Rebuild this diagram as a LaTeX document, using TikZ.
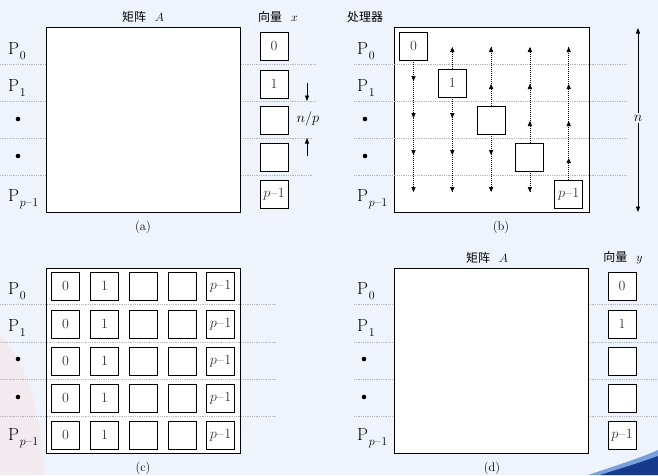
\documentclass[tikz,border=0pt]{standalone}
\usepackage{fontspec}
\newfontfamily\cjk{Noto Sans CJK SC}
\usetikzlibrary{arrows.meta}
\definecolor{bg}{RGB}{239,243,251}
\definecolor{dotgray}{RGB}{180,180,186}
\definecolor{numgray}{RGB}{55,55,55}
\definecolor{swoosh}{RGB}{22,58,140}
\definecolor{swooshlight}{RGB}{120,160,220}
\definecolor{pinkish}{RGB}{243,234,240}
\newcommand\Psb[1]{P\kern0.8pt\raisebox{-5pt}{\fontsize{12}{12}\selectfont #1}}
\newcommand\pmo{$p$\kern0.3pt--\kern0.2pt1}
\begin{document}
\begin{tikzpicture}[x=1pt,y=-1pt,
  cell/.style={draw, fill=white, line width=0.9pt, minimum width=28pt, minimum height=28pt, inner sep=0pt, font=\fontsize{14}{14}\selectfont, text=numgray},
  mat/.style={draw, fill=white, line width=0.9pt, inner sep=0pt, minimum width=194pt, minimum height=185pt},
  dotline/.style={dotgray, line width=0.6pt, dash pattern=on 0.9pt off 0.9pt},
  plabel/.style={font=\fontsize{17.5}{17.5}\selectfont, anchor=base west, inner sep=0pt},
  bul/.style={circle, fill=black, inner sep=0pt, minimum size=4.6pt},
  ttl/.style={font=\fontsize{12}{12}\selectfont, inner sep=0pt},
  figcap/.style={font=\fontsize{12.5}{12.5}\selectfont, inner sep=0pt},
  arrowtip/.style={-{Triangle[length=5pt,width=4.2pt]}, line width=0.6pt},
  vline/.style={line width=0.7pt, dash pattern=on 1pt off 1pt},
  solidarrow/.style={line width=0.8pt, -{Triangle[length=5.5pt,width=4pt]}},
]
\useasboundingbox (0,0) rectangle (658,475);
\fill[bg] (0,0) rectangle (658,475);
% faint background decorations
\fill[pinkish] (0,335) .. controls (25,360) and (42,410) .. (44,475) -- (0,475) -- cycle;
\fill[swooshlight] (588,475) .. controls (615,466) and (640,458) .. (658,450) -- (658,475) -- cycle;
\fill[swoosh] (600,475) .. controls (622,468) and (642,462) .. (658,456) -- (658,475) -- cycle;

% ================= (a) =================
\foreach \yy/\xe in {64/316,101/316,138/313,175/313}
  \draw[dotline] (0,\yy) -- (\xe,\yy);
\node[mat] (Aa) at (143,119.5) {};
\node[ttl] (ta) at (143,17) {{\cjk 矩阵}\hspace{9pt}$A$};
\node[ttl] (tx) at (278,17) {{\cjk 向量}\hspace{9pt}$x$};
\node[plabel] (pa0) at (8,54) {\Psb{0}};
\node[plabel] (pa1) at (8,91) {\Psb{1}};
\node[bul] (da2) at (18,119) {};
\node[bul] (da3) at (18,156) {};
\node[plabel] (pa4) at (8,201) {\Psb{\pmo}};
\node[cell] (xa0) at (274,46) {0};
\node[cell] (xa1) at (274,84) {1};
\node[cell] (xa2) at (274,120) {};
\node[cell] (xa3) at (274,157) {};
\node[cell] (xa4) at (274,194) {\pmo};
\coordinate (npd1) at (307,83);
\coordinate (npd2) at (307,101);
\coordinate (npu1) at (307,156);
\coordinate (npu2) at (307,138);
\draw[solidarrow] (npd1) -- (npd2);
\draw[solidarrow] (npu1) -- (npu2);
\node[font=\fontsize{14}{14}\selectfont, inner sep=0pt] (np) at (308,119) {$n/p$};
\node[figcap] (ca) at (143,227) {(a)};

% ================= (b) =================
\node[mat, minimum width=195pt] (Ab) at (491.5,119.5) {};
\foreach \yy in {64,101,138,175}
  \draw[dotline] (354,\yy) -- (627,\yy);
\node[ttl] (tb) at (365,17) {\cjk 处理器};
\node[plabel] (pb0) at (357,54) {\Psb{0}};
\node[plabel] (pb1) at (357,91) {\Psb{1}};
\node[bul] (db2) at (365,119) {};
\node[bul] (db3) at (365,156) {};
\node[plabel] (pb4) at (357,201) {\Psb{\pmo}};
\foreach \j in {0,...,4}{
  \pgfmathsetmacro\xj{413.5+38.8*\j}
  \pgfmathsetmacro\yj{46+37*\j}
  \coordinate (top\j) at (\xj,47);
  \coordinate (bot\j) at (\xj,192);
  \coordinate (ctr\j) at (\xj,\yj);
}
\foreach \j in {1,...,4}{
  \draw[vline] (ctr\j) -- (top\j);
}
\foreach \j in {0,...,3}{
  \draw[vline] (ctr\j) -- (bot\j);
}
% arrowheads
\foreach \j in {1,...,4}{
  \pgfmathtruncatemacro\jm{\j-1}
  \foreach \i in {0,...,\jm}{
    \pgfmathsetmacro\xj{413.5+38.8*\j}
    \pgfmathsetmacro\tp{47+37*\i}
    \draw[arrowtip] (\xj,\tp+4) -- (\xj,\tp);
  }
}
\foreach \j in {0,...,3}{
  \pgfmathtruncatemacro\jp{\j+1}
  \foreach \i in {\jp,...,4}{
    \pgfmathsetmacro\xj{413.5+38.8*\j}
    \pgfmathsetmacro\tp{81+37*(\i-1)}
    \draw[arrowtip] (\xj,\tp-4) -- (\xj,\tp);
  }
}
\node[cell] (b0) at (ctr0) {0};
\node[cell] (b1) at (ctr1) {1};
\node[cell] (b2) at (ctr2) {};
\node[cell] (b3) at (ctr3) {};
\node[cell] (b4) at (ctr4) {\pmo};
\coordinate (nt) at (638,28);
\coordinate (nb) at (638,212);
\draw[line width=0.8pt, {Triangle[length=5.5pt,width=4pt]}-{Triangle[length=5.5pt,width=4pt]}] (nt) -- (nb);
\node[fill=bg, inner sep=1.5pt, font=\fontsize{14}{14}\selectfont] (nn) at (638,118) {$n$};
\node[figcap] (cb) at (501,227) {(b)};

% ================= (c) =================
\node[mat] (Ac) at (143,360.5) {};
\foreach \yy in {304,342,379,416}
  \draw[dotline] (0,\yy) -- (277,\yy);
\node[plabel] (pc0) at (8,294) {\Psb{0}};
\node[plabel] (pc1) at (8,331) {\Psb{1}};
\node[bul] (dc2) at (18,359) {};
\node[bul] (dc3) at (18,397) {};
\node[plabel] (pc4) at (8,440) {\Psb{\pmo}};
\foreach \r/\yy in {0/286,1/324,2/361,3/398,4/435}{
  \node[cell] (c\r0) at (65.5,\yy) {0};
  \node[cell] (c\r1) at (104.5,\yy) {1};
  \node[cell] (c\r2) at (143.5,\yy) {};
  \node[cell] (c\r3) at (182.5,\yy) {};
  \node[cell] (c\r4) at (220.5,\yy) {\pmo};
}
\node[figcap] (cc) at (143,468) {(c)};

% ================= (d) =================
\foreach \yy in {304,342,379,416}
  \draw[dotline] (354,\yy) -- (658,\yy);
\node[mat] (Ad) at (491,360.5) {};
\node[ttl] (td) at (487,258) {{\cjk 矩阵}\hspace{9pt}$A$};
\node[ttl] (ty) at (623,258) {{\cjk 向量}\hspace{9pt}$y$};
\node[plabel] (pd0) at (357,294) {\Psb{0}};
\node[plabel] (pd1) at (357,331) {\Psb{1}};
\node[bul] (dd2) at (364,359) {};
\node[bul] (dd3) at (364,397) {};
\node[plabel] (pd4) at (357,440) {\Psb{\pmo}};
\node[cell] (y0) at (622,286) {0};
\node[cell] (y1) at (622,324) {1};
\node[cell] (y2) at (622,361) {};
\node[cell] (y3) at (622,398) {};
\node[cell] (y4) at (622,435) {\pmo};
\node[figcap] (cd) at (492,468) {(d)};
\end{tikzpicture}
\end{document}
